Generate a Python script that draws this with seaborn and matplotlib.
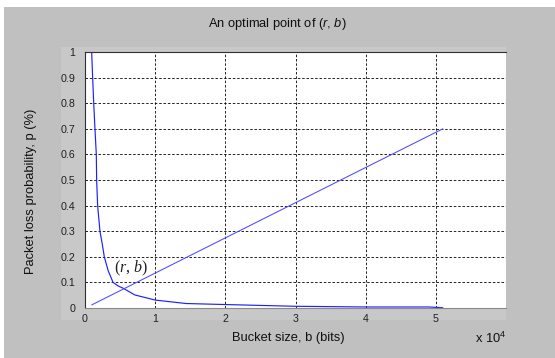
import numpy as np
import pandas as pd
import seaborn as sns
import matplotlib
matplotlib.use("Agg")
import matplotlib.pyplot as plt
from matplotlib.patches import Rectangle
from matplotlib.ticker import FuncFormatter, FixedLocator

# ---- data ----
loss_bucket_bits = [950, 1090, 1240, 1420, 1610, 1660, 1800, 2000, 2130, 2460, 2750,
                    3310, 4000, 4730, 5450, 7100, 10000, 14400, 20000, 30000,
                    40000, 49000, 51000]
loss_prob = [1.0, 0.9, 0.8, 0.7, 0.6, 0.5, 0.4, 0.34, 0.30, 0.25, 0.20,
             0.145, 0.10, 0.086, 0.077, 0.051, 0.031, 0.0175, 0.0135, 0.0067,
             0.004, 0.004, 0.001]
line_bucket_bits = [950, 51000]
line_prob = [0.012, 0.70]
x_ticks = [0, 10000, 20000, 30000, 40000, 50000]
y_ticks = [0, 0.1, 0.2, 0.3, 0.4, 0.5, 0.6, 0.7, 0.8, 0.9, 1.0]
title_text = r"An optimal point of ($\mathit{r}$, $\mathit{b}$)"
xlabel_text = "Bucket size, b (bits)"
ylabel_text = "Packet loss probability, p (%)"
offset_text = r"x 10$^{4}$"
point_label = r"$\mathtt{(}\mathcal{r}\mathtt{,}\;\mathcal{b}\mathtt{)}$"
point_xy = (6500, 0.153)

sns.set_style("white")
plt.rcParams['font.family'] = ['Liberation Sans', 'DejaVu Sans']
plt.rcParams['mathtext.fontset'] = 'custom'
plt.rcParams['mathtext.rm'] = 'Liberation Sans'
plt.rcParams['mathtext.it'] = 'Liberation Sans:italic'
plt.rcParams['mathtext.tt'] = 'Liberation Serif'
plt.rcParams['mathtext.cal'] = 'Liberation Serif:italic'
plt.rcParams['mathtext.default'] = 'regular'

W, H = 555, 358
fig = plt.figure(figsize=(W / 100, H / 100), dpi=100)
fig.patch.set_facecolor('white')

def fx(px):
    return px / W

def fy(py):
    return 1 - py / H

# grey figure panel (white strip at top and left)
fig.patches.append(Rectangle((fx(4), 0), 1 - fx(4), fy(7), transform=fig.transFigure,
                             facecolor='#c0c0c0', edgecolor='none', zorder=-3))
# lighter plate behind axes
fig.patches.append(Rectangle((fx(61), fy(320)), fx(506) - fx(61), fy(47) - fy(320),
                             transform=fig.transFigure, facecolor='#c8c8c8',
                             edgecolor='none', zorder=-2))

ax = fig.add_axes([fx(85), fy(308), fx(506) - fx(85), fy(52) - fy(308)])
ax.set_facecolor('white')

df1 = pd.DataFrame({'b': loss_bucket_bits, 'p': loss_prob})
df2 = pd.DataFrame({'b': line_bucket_bits, 'p': line_prob})
sns.lineplot(data=df1, x='b', y='p', ax=ax, color='#2020ff', lw=0.85, sort=False,
             estimator=None)
sns.lineplot(data=df2, x='b', y='p', ax=ax, color='#4a4aff', lw=0.75, sort=False,
             estimator=None)

ax.set_xlim(0, 60000)
ax.set_ylim(0, 1)
ax.xaxis.set_major_locator(FixedLocator(x_ticks))
ax.yaxis.set_major_locator(FixedLocator(y_ticks))
ax.xaxis.set_major_formatter(FuncFormatter(lambda v, pos: f"{v / 1e4:g}"))
ax.yaxis.set_major_formatter(FuncFormatter(lambda v, pos: f"{v:g}"))
ax.tick_params(axis='both', direction='in', length=3, width=0.6, colors='#303030',
               labelsize=7.7, labelcolor='#202020')
ax.tick_params(axis='x', pad=4)
ax.tick_params(axis='y', pad=7)
ax.set_xlabel('')
ax.set_ylabel('')
ax.grid(True, color='black', linestyle=(0, (3, 2.2)), linewidth=0.6)

ax.spines['top'].set_color('#303030')
ax.spines['left'].set_color('#303030')
ax.spines['bottom'].set_color('#8a8a8a')
ax.spines['right'].set_visible(False)
for s in ['top', 'left', 'bottom']:
    ax.spines[s].set_linewidth(0.8)

ax.text(point_xy[0], point_xy[1], point_label, fontsize=11.5, ha='center', va='center',
        color='#202020')

fig.text(fx(277.5), fy(24), title_text, fontsize=9.3, ha='center', va='center',
         color='#101010')
fig.text(fx(288), fy(338), xlabel_text, fontsize=9.3, ha='center', va='center',
         color='#101010')
fig.text(fx(31.5), fy(191), ylabel_text, fontsize=9.3, ha='center', va='center',
         rotation=90, color='#101010')
fig.text(fx(491), fy(338), offset_text, fontsize=9.3, ha='center', va='center',
         color='#101010')

fig.savefig('out.png', dpi=100, facecolor=fig.get_facecolor())
